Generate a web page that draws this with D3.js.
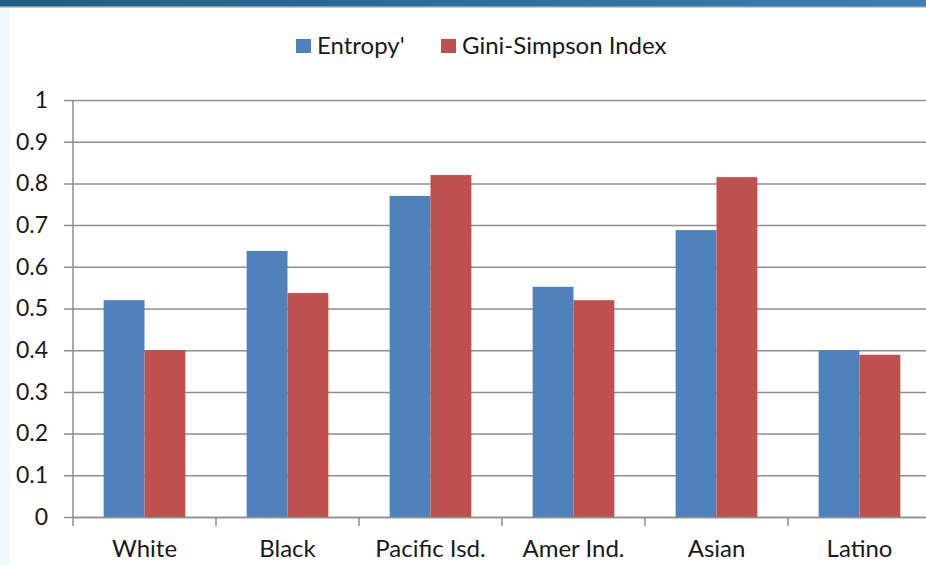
<!DOCTYPE html>
<html>
<head>
<meta charset="utf-8">
<script src="https://cdn.jsdelivr.net/npm/d3@7"></script>
<style>
  body { margin:0; background:#fff; }
  #canvas { width:926px; height:565px; }
  text { font-family: Lato, "Open Sans", sans-serif; fill:#1a1a1a; }
</style>
</head>
<body>
<div id="canvas" class="canvas"></div>
<script>
// data
var categories = ['White','Black','Pacific Isd.','Amer Ind.','Asian','Latino'];
var seriesNames = ["Entropy'", 'Gini-Simpson Index'];
var entropy = [0.52, 0.638, 0.77, 0.552, 0.688, 0.40];
var giniSimpson = [0.40, 0.537, 0.82, 0.52, 0.815, 0.389];
var yTicks = [0, 0.1, 0.2, 0.3, 0.4, 0.5, 0.6, 0.7, 0.8, 0.9, 1];
var colors = ['#4f81bd', '#c0504d'];

var W = 926, H = 565;
var m = {t:100, l:73, b:48, r:-5};

var svg = d3.select('.canvas')
    .append('svg')
    .attr('width', W)
    .attr('height', H);

// header strip and faint left edge
var grad = svg.append('defs').append('linearGradient').attr('id','hdr');
grad.append('stop').attr('offset','0%').attr('stop-color','#1f5c88');
grad.append('stop').attr('offset','100%').attr('stop-color','#3b80b2');
svg.append('rect').attr('x',0).attr('y',0).attr('width',W).attr('height',6).attr('fill','url(#hdr)');
svg.append('rect').attr('x',0).attr('y',6).attr('width',W).attr('height',1.5).attr('fill','#8a9aa6');
svg.append('rect').attr('x',0).attr('y',8).attr('width',10).attr('height',H-8).attr('fill','#f1f8fc');

var rows = categories.map(function(c, i){
    return {cat:c, vals:[entropy[i], giniSimpson[i]]};
});

var scaleY = d3.scaleLinear().domain([0,1]).range([H - m.b, m.t]);
var scaleX = d3.scaleBand().domain(categories).range([m.l, W - m.r]);
// gap width 150% as in the original spreadsheet chart
var groupW = scaleX.step() * 2 / 3.5;
var scaleS = d3.scaleBand().domain([0,1])
    .range([(scaleX.step() - groupW)/2, (scaleX.step() + groupW)/2]);

// gridlines + y axis
var axisY = d3.axisLeft(scaleY)
    .tickValues(yTicks)
    .tickSize(-(W - m.l + 10))
    .tickFormat(function(d){ return d3.format('')(d); });
var gy = svg.append('g')
    .attr('transform','translate(' + m.l + ',0)')
    .call(axisY);
gy.select('.domain').remove();
gy.selectAll('.tick line').attr('x1', -9).attr('stroke','#8e8e8e').attr('stroke-width',1.5);
gy.selectAll('.tick text').attr('x', -25).attr('font-size', 23).attr('font-family','Lato').attr('fill','#1a1a1a');

// bars
var groups = svg.selectAll('g.cat')
    .data(rows)
    .enter().append('g')
    .attr('class','cat')
    .attr('transform', function(d){ return 'translate(' + scaleX(d.cat) + ',0)'; });

groups.selectAll('rect')
    .data(function(d){ return d.vals; })
    .enter().append('rect')
    .attr('x', function(d, i){ return scaleS(i); })
    .attr('y', function(d){ return scaleY(d); })
    .attr('width', scaleS.bandwidth())
    .attr('height', function(d){ return scaleY(0) - scaleY(d); })
    .attr('fill', function(d, i){ return colors[i]; });

// x axis
var axisX = d3.axisBottom(scaleX).tickSize(0).tickPadding(23);
var gx = svg.append('g')
    .attr('transform','translate(0,' + scaleY(0) + ')')
    .call(axisX);
gx.select('.domain').attr('stroke','#8e8e8e').attr('stroke-width',1.5);
gx.selectAll('.tick text').attr('font-size', 24).attr('font-family','Lato').attr('fill','#1a1a1a');
// category separators
svg.selectAll('line.sep')
    .data(categories)
    .enter().append('line')
    .attr('class','sep')
    .attr('x1', function(d){ return scaleX(d); })
    .attr('x2', function(d){ return scaleX(d); })
    .attr('y1', scaleY(0))
    .attr('y2', scaleY(0) + 9)
    .attr('stroke','#8e8e8e').attr('stroke-width',1.5);
// vertical axis line
svg.append('line')
    .attr('x1', m.l).attr('x2', m.l)
    .attr('y1', scaleY(1)).attr('y2', scaleY(0))
    .attr('stroke','#8e8e8e').attr('stroke-width',1.5);

// legend
var legX = [296, 441];
var leg = svg.selectAll('g.leg')
    .data(seriesNames)
    .enter().append('g')
    .attr('class','leg')
    .attr('transform', function(d, i){ return 'translate(' + legX[i] + ',39)'; });
leg.append('rect').attr('width',15).attr('height',14).attr('fill', function(d, i){ return colors[i]; });
leg.append('text').attr('x',21).attr('y',15).attr('font-size',24).text(function(d){ return d; });
</script>
</body>
</html>
